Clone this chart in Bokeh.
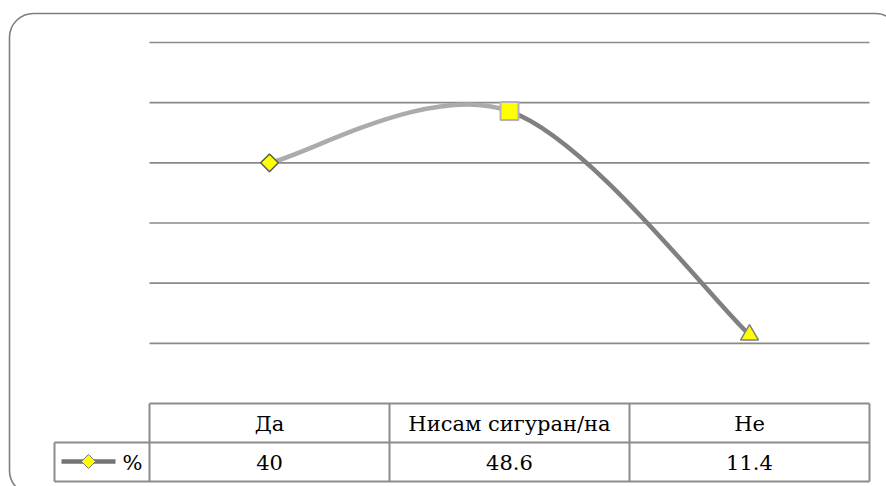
import numpy as np
from bokeh.plotting import figure
from bokeh.models import Range1d, BoxAnnotation, ColumnDataSource
from bokeh.core.properties import value
from bokeh.embed import file_html
from bokeh.resources import INLINE

# ---- data ----
categories = ["Да", "Нисам сигуран/на", "Не"]
percent = [40, 48.6, 11.4]
series_name = "%"
grid_values = [10, 20, 30, 40, 50, 60]

# ---- layout (pixels) ----
W, H = 886, 486
PX_LEFT, PX_RIGHT = 149, 869      # plot area horizontal extent
PX_ZERO, PX_TOP = 403, 42         # y pixel of 0 and of max grid value
n = len(categories)
CAT_W = (PX_RIGHT - PX_LEFT) / n
UNIT = (PX_ZERO - PX_TOP) / max(grid_values)


def px_x(px):
    return (px - PX_LEFT) / CAT_W - 0.5


def px_y(py):
    return (PX_ZERO - py) / UNIT


p = figure(width=W, height=H, output_backend="svg", toolbar_location=None,
           x_range=Range1d(px_x(0), px_x(W)), y_range=Range1d(px_y(H), px_y(0)),
           x_axis_location=None, y_axis_location=None, min_border=0,
           outline_line_color=None, background_fill_color="white",
           border_fill_color="white")
p.grid.visible = False

GRID_C = "#8a8a8a"
x_lo, x_hi = -0.5, n - 0.5

# gridlines
p.segment(x0=[x_lo] * len(grid_values), x1=[x_hi] * len(grid_values),
          y0=grid_values, y1=grid_values, line_color=GRID_C, line_width=1.6)

# rounded outer border
p.add_layout(BoxAnnotation(left=px_x(9), right=px_x(899), top=px_y(13), bottom=px_y(494),
                           fill_color=None, fill_alpha=0, line_color="#7f7f7f",
                           line_alpha=1.0, line_width=1.6, border_radius=24))

# smoothed line (Excel-like Bezier smoothing)
xs = np.arange(n, dtype=float)
ys = np.array(percent, dtype=float)
seg = dict(x0=[], y0=[], x1=[], y1=[], cx0=[], cy0=[], cx1=[], cy1=[], color=[])
seg_colors = ["#ababab", "#808080"]
for i in range(n - 1):
    im = max(i - 1, 0)
    ip2 = min(i + 2, n - 1)
    seg["x0"].append(xs[i]); seg["y0"].append(ys[i])
    seg["x1"].append(xs[i + 1]); seg["y1"].append(ys[i + 1])
    seg["cx0"].append(xs[i] + (xs[i + 1] - xs[im]) / 6)
    seg["cy0"].append(ys[i] + (ys[i + 1] - ys[im]) / 6)
    seg["cx1"].append(xs[i + 1] - (xs[ip2] - xs[i]) / 6)
    seg["cy1"].append(ys[i + 1] - (ys[ip2] - ys[i]) / 6)
    seg["color"].append(seg_colors[i])
p.bezier(x0="x0", y0="y0", x1="x1", y1="y1", cx0="cx0", cy0="cy0", cx1="cx1", cy1="cy1",
         line_color="color", line_width=4.5, source=ColumnDataSource(seg))

# markers
p.scatter(x=[xs[0]], y=[ys[0]], marker="square", angle=np.pi / 4, size=12.5,
          fill_color="#ffff00", line_color="#595959", line_width=1.5)
p.scatter(x=[xs[1]], y=[ys[1]], marker="square", size=18,
          fill_color="#ffff00", line_color="#b3b3b3", line_width=2)
p.scatter(x=[xs[2]], y=[ys[2]], marker="triangle", size=18,
          fill_color="#ffff00", line_color="#808080", line_width=1.5)

# data table
T_C = "#8c8c8c"
row1_top, row_mid, row_bot = 0.0, px_y(442), px_y(481)
leg_left = px_x(54)
p.segment(x0=[x_lo, leg_left, leg_left], x1=[x_hi, x_hi, x_hi],
          y0=[row1_top, row_mid, row_bot], y1=[row1_top, row_mid, row_bot],
          line_color=T_C, line_width=2)
vx = [x_lo + k for k in range(n + 1)]
p.segment(x0=vx, x1=vx, y0=[row1_top] * len(vx), y1=[row_bot] * len(vx),
          line_color=T_C, line_width=2)
p.segment(x0=[leg_left], x1=[leg_left], y0=[row_mid], y1=[row_bot],
          line_color=T_C, line_width=2)

FONT = value("DejaVu Serif")
p.text(x=list(xs), y=[px_y(423)] * n, text=categories, text_align="center",
       text_baseline="middle", text_font=FONT, text_font_size="21px", text_color="black")
p.text(x=list(xs), y=[px_y(462)] * n, text=[str(v) for v in percent], text_align="center",
       text_baseline="middle", text_font=FONT, text_font_size="21px", text_color="black")

# legend key in table
p.segment(x0=[px_x(61)], x1=[px_x(115)], y0=[px_y(461)], y1=[px_y(461)],
          line_color="#737373", line_width=4.5)
p.scatter(x=[px_x(88)], y=[px_y(461)], marker="square", angle=np.pi / 4, size=10,
          fill_color="#ffff00", line_color="#737373", line_width=1)
p.text(x=[px_x(132)], y=[px_y(462)], text=[series_name], text_align="center",
       text_baseline="middle", text_font=FONT, text_font_size="21px", text_color="black")

open("out.html", "w").write(file_html(p, INLINE))
